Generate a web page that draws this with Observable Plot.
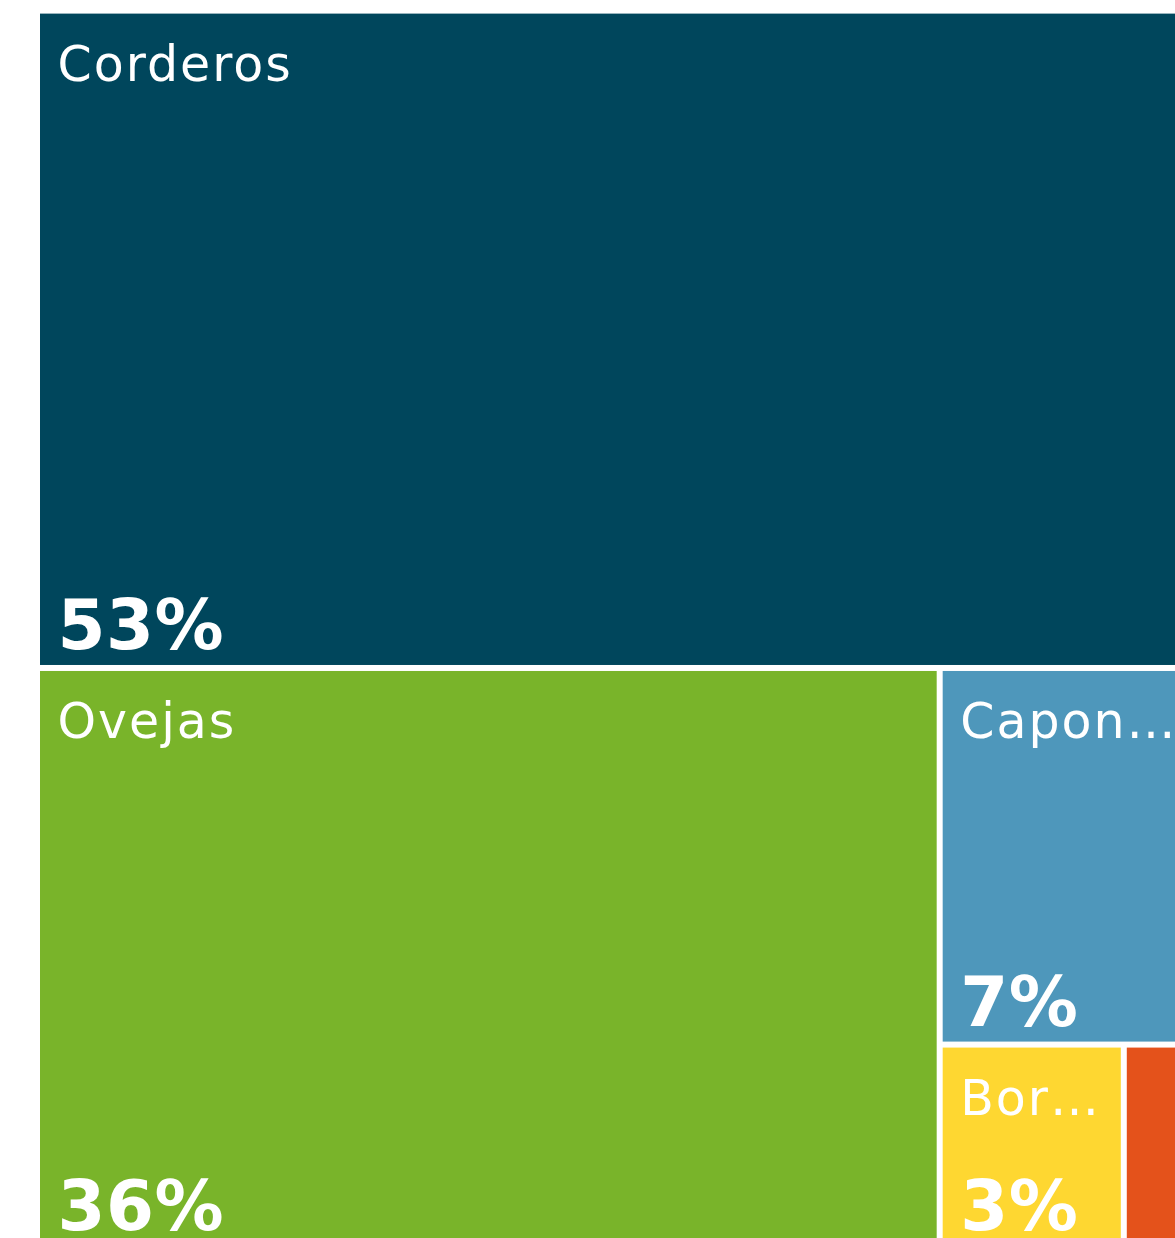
<!DOCTYPE html>
<html>
<head>
<meta charset="utf-8">
<script src="https://cdn.jsdelivr.net/npm/d3@7"></script>
<script src="https://cdn.jsdelivr.net/npm/@observablehq/plot@0.6"></script>
<style>
  html, body { margin: 0; padding: 0; background: #fff; overflow: hidden; }
  #chart svg { overflow: hidden; display: block; }
</style>
</head>
<body>
<div id="chart"></div>
<script>
// Categories and their shares (%)
const categories = ["Corderos", "Ovejas", "Capones", "Borregos", "Carneros"];
const shares = [53.1, 36.0, 7.07, 2.58, 1.25];
const palette = ["#00465c", "#79b42a", "#4e97bb", "#fed731", "#e4521b"];

const W = 1170, H = 1232;          // full treemap extent (partly outside the view)
const PAD = 6;
const FONT = "'DejaVu Sans', Verdana, sans-serif";
const LABEL_SIZE = 49, LABEL_SPACING = 2;
const PCT_SIZE = 69, PCT_SPACING = 0.5;

const root = d3.hierarchy({children: categories.map((name, i) => ({name, value: shares[i]}))})
  .sum(d => d.value || 0);
d3.treemap().tile(d3.treemapSquarify.ratio(1)).size([W, H]).paddingInner(PAD).round(false)(root);

const ctx = document.createElement("canvas").getContext("2d");
function measure(text, font, spacing) {
  ctx.font = font;
  return ctx.measureText(text).width + spacing * text.length;
}
function fit(text, width) {
  const f = `${LABEL_SIZE}px ${FONT}`;
  if (measure(text, f, LABEL_SPACING) <= width) return text;
  for (let n = text.length - 1; n > 0; n--) {
    const t = text.slice(0, n) + "…";
    if (measure(t, f, LABEL_SPACING) <= width) return t;
  }
  return "";
}
function fitPct(text, width) {
  return measure(text, `bold ${PCT_SIZE}px ${FONT}`, PCT_SPACING) <= width ? text : "";
}

const rows = root.leaves().map(l => ({
  name: l.data.name,
  x0: l.x0, x1: l.x1, y0: l.y0, y1: l.y1,
  label: fit(l.data.name, (l.x1 - l.x0) * 0.83),
  pct: fitPct(Math.round(l.data.value) + "%", (l.x1 - l.x0) * 0.9)
}));

const chart = Plot.plot({
  width: 1175,
  height: 1238,
  margin: 0,
  style: {overflow: "hidden", background: "#fff"},
  x: {type: "linear", domain: [0, W], range: [40, 40 + W], axis: null},
  y: {type: "linear", domain: [0, H], range: [13.6, 13.6 + H], axis: null},
  color: {type: "ordinal", domain: categories, range: palette},
  marks: [
    Plot.rect(rows, {x1: "x0", x2: "x1", y1: "y0", y2: "y1", fill: "name"}),
    Plot.text(rows, {
      x: "x0", y: "y0", text: "label", dx: 17, dy: 67,
      textAnchor: "start", lineAnchor: "bottom",
      fill: "white", fontSize: LABEL_SIZE, fontFamily: FONT
    }),
    Plot.text(rows, {
      x: "x0", y: "y1", text: "pct", dx: 17, dy: -16,
      textAnchor: "start", lineAnchor: "bottom",
      fill: "white", fontSize: PCT_SIZE, fontWeight: "bold", fontFamily: FONT
    })
  ]
});
const textGroups = chart.querySelectorAll('g[aria-label="text"]');
if (textGroups[0]) textGroups[0].style.letterSpacing = LABEL_SPACING + "px";
if (textGroups[1]) textGroups[1].style.letterSpacing = PCT_SPACING + "px";
document.getElementById("chart").append(chart);
</script>
</body>
</html>
